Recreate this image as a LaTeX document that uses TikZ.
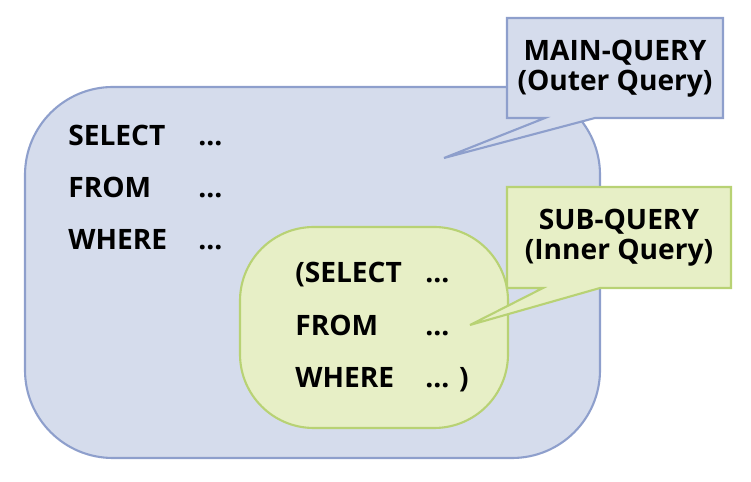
\documentclass[tikz,border=0pt]{standalone}
\usepackage{fontspec}
\setmainfont{Open Sans}
\definecolor{mainfill}{HTML}{D5DCEC}
\definecolor{mainline}{HTML}{8E9FCC}
\definecolor{subfill}{HTML}{E7EFC6}
\definecolor{subline}{HTML}{B8D274}
\begin{document}
\begin{tikzpicture}[x=0.02cm, y=-0.02cm,
  mainshape/.style={fill=mainfill, draw=mainline, line width=1.2pt},
  subshape/.style={fill=subfill, draw=subline, line width=1.2pt},
  kw/.style={font=\bfseries\fontsize{16}{17}\selectfont, inner sep=0pt, anchor=base west},
  label/.style={font=\bfseries\fontsize{16}{17}\selectfont, align=center, inner sep=0pt}]
  \useasboundingbox (0,0) rectangle (751,482);

  % Draw the outer query box
  \draw[mainshape, rounded corners=50] (25,87) rectangle (600,458);

  % Main query callout
  \draw[mainshape] (507,18) -- (723,18) -- (723,118) -- (595,118) -- (444,158)
    -- (545,118) -- (507,118) -- cycle;
  \node[label] (mainlabel) at (615,69) {MAIN-QUERY\\(Outer Query)};

  % Outer lines
  \node[kw] (select) at (68,146) {SELECT};
  \node[kw] (from) at (68,198) {FROM};
  \node[kw] (where) at (68,250) {WHERE};
  \foreach \y/\n in {146/a,198/b,250/c} {
    \node[kw] (dots\n) at (198,\y) {...};
  }

  % Inner query box
  \draw[subshape, rounded corners=42] (240,227) rectangle (508,428);

  % Sub query callout
  \draw[subshape] (507,187) -- (731,187) -- (731,288) -- (600,288) -- (470,325)
    -- (543,288) -- (507,288) -- cycle;
  \node[label] (sublabel) at (619,238) {SUB-QUERY\\(Inner Query)};

  % Inner lines
  \node[kw] (subselect) at (295,283) {(SELECT};
  \node[kw] (subfrom) at (295,336) {FROM};
  \node[kw] (subwhere) at (295,388) {WHERE};
  \node[kw] (subdotsa) at (425,283) {...};
  \node[kw] (subdotsb) at (425,336) {...};
  \node[kw] (subdotsc) at (425,388) {... )};
\end{tikzpicture}
\end{document}
